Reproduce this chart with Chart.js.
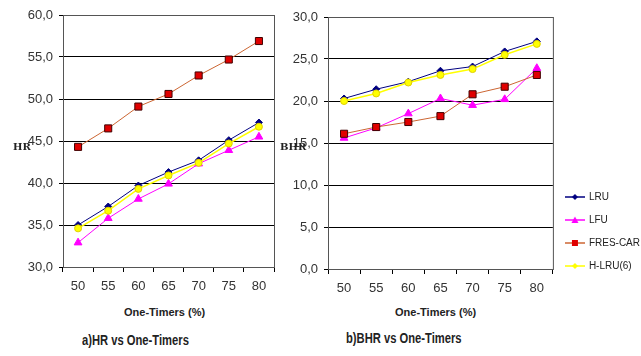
<!DOCTYPE html>
<html>
<head>
<meta charset="utf-8">
<script src="https://cdn.jsdelivr.net/npm/chart.js@4.4.0/dist/chart.umd.min.js"></script>
<style>
  body { margin: 0; background: #fff; width: 641px; height: 356px; overflow: hidden; position: relative; font-family: "Liberation Sans", Arial, sans-serif; }
  .box { position: absolute; }
  .txt { position: absolute; white-space: nowrap; color: #222; }
  .ylab { font-family: "DejaVu Serif", serif; font-weight: bold; font-size: 10px; }
  .xtitle { font-weight: bold; font-size: 11px; }
  .cap { font-weight: bold; font-size: 14px; transform: scaleX(0.8); transform-origin: left center; }
</style>
</head>
<body>
<div class="box" style="left:0;top:0;width:290px;height:300px"><canvas id="chartHR"></canvas></div>
<div class="box" style="left:290px;top:0;width:360px;height:300px"><canvas id="chartBHR"></canvas></div>

<div class="txt ylab" style="left:13px;top:141px">HR</div>
<div class="txt ylab" style="left:280px;top:141px">BHR</div>
<div class="txt xtitle" style="left:124px;top:306px">One-Timers (%)</div>
<div class="txt xtitle" style="left:395px;top:306px">One-Timers (%)</div>
<div class="txt cap" style="left:82px;top:332px">a)HR vs One-Timers</div>
<div class="txt cap" style="left:346px;top:330px">b)BHR vs One-Timers</div>

<script>
// persentase one-timers
const kategori = ['50', '55', '60', '65', '70', '75', '80'];
const namaSeri = ['LRU', 'LFU', 'FRES-CAR', 'H-LRU(6)'];

// hit ratio (HR)
const hrLRU     = [35.0, 37.2, 39.7, 41.3, 42.7, 45.1, 47.2];
const hrLFU     = [32.9, 35.8, 38.1, 39.9, 42.3, 43.9, 45.5];
const hrFRESCAR = [44.3, 46.5, 49.1, 50.6, 52.8, 54.7, 56.9];
const hrHLRU    = [34.6, 36.7, 39.3, 40.9, 42.4, 44.7, 46.7];

// byte hit ratio (BHR)
const bhrLRU     = [20.3, 21.4, 22.3, 23.6, 24.1, 25.9, 27.1];
const bhrLFU     = [15.6, 16.8, 18.5, 20.3, 19.5, 20.2, 23.9];
const bhrFRESCAR = [16.1, 16.9, 17.5, 18.2, 20.8, 21.7, 23.1];
const bhrHLRU    = [20.0, 20.9, 22.2, 23.1, 23.8, 25.5, 26.8];

const gaya = [
  { line: '#000080', fill: '#000080', border: '#000080', shape: 'rectRot', r: 3.5, order: 4 },
  { line: '#ff00ff', fill: '#ff00ff', border: '#ff00ff', shape: 'triangle', r: 4.5, order: 3 },
  { line: '#cc6633', fill: '#e00000', border: '#400000', shape: 'rect', r: 5, order: 2 },
  { line: '#ffff00', fill: '#ffff00', border: '#e0d000', shape: 'circle', r: 3.5, order: 1 }
];

function buatDataset(nilai) {
  return nilai.map((d, i) => ({
    label: namaSeri[i],
    data: d,
    borderColor: gaya[i].line,
    borderWidth: i === 3 ? 1.5 : 1,
    backgroundColor: gaya[i].fill,
    pointBackgroundColor: gaya[i].fill,
    pointBorderColor: gaya[i].border,
    pointBorderWidth: 1,
    pointStyle: gaya[i].shape,
    pointRadius: gaya[i].r,
    tension: 0,
    fill: false,
    order: gaya[i].order
  }));
}

// kotak plot (garis tepi atas & kanan)
const bingkai = {
  id: 'bingkai',
  afterDraw(chart) {
    const a = chart.chartArea, ctx = chart.ctx;
    ctx.save();
    ctx.strokeStyle = '#555';
    ctx.lineWidth = 1;
    ctx.strokeRect(a.left + 0.5, a.top + 0.5, a.right - a.left, a.bottom - a.top);
    ctx.restore();
  }
};

function ikonLegend(i) {
  const c = document.createElement('canvas');
  c.width = 20; c.height = 10;
  const x = c.getContext('2d');
  x.strokeStyle = gaya[i].line;
  x.lineWidth = 1.5;
  x.beginPath(); x.moveTo(0, 5); x.lineTo(20, 5); x.stroke();
  x.fillStyle = gaya[i].fill;
  if (gaya[i].shape === 'triangle') {
    x.beginPath(); x.moveTo(10, 1.5); x.lineTo(13.5, 8); x.lineTo(6.5, 8); x.closePath(); x.fill();
  } else if (gaya[i].shape === 'rect') {
    x.fillRect(7, 2, 6, 6);
  } else {
    x.beginPath(); x.moveTo(10, 2); x.lineTo(13, 5); x.lineTo(10, 8); x.lineTo(7, 5); x.closePath(); x.fill();
  }
  return c;
}

function opsi(minY, maxY, lebarY, tinggiX, padKanan, padAtas, legend) {
  return {
    responsive: true,
    maintainAspectRatio: false,
    animation: false,
    layout: { padding: { left: 0, right: padKanan, top: padAtas, bottom: 0 } },
    plugins: {
      legend: legend ? {
        display: true,
        position: 'right',
        align: 'start',
        maxWidth: 200,
        title: { display: true, text: '', font: { size: 10 }, padding: { top: 0, bottom: 150 } },
        labels: {
          usePointStyle: true,
          pointStyleWidth: 18,
          padding: 13,
          color: '#222',
          font: { size: 10 },
          sort: (a, b) => a.datasetIndex - b.datasetIndex,
          generateLabels(chart) {
            const items = Chart.defaults.plugins.legend.labels.generateLabels(chart);
            items.forEach(it => { it.pointStyle = ikonLegend(it.datasetIndex); });
            return items;
          }
        }
      } : { display: false },
      tooltip: { enabled: false }
    },
    scales: {
      x: {
        type: 'category',
        offset: true,
        grid: { drawOnChartArea: false, drawTicks: true, tickLength: 5, offset: true, color: '#000' },
        border: { color: '#000' },
        ticks: { color: '#333', padding: 7, font: { size: 13 } },
        afterFit(s) { s.height = tinggiX; }
      },
      y: {
        min: minY,
        max: maxY,
        ticks: {
          stepSize: 5,
          color: '#333',
          padding: 6,
          font: { size: 13 },
          callback: v => v.toFixed(1).replace('.', ',')
        },
        grid: { color: '#000', tickLength: 4 },
        border: { color: '#000' },
        afterFit(s) { s.width = lebarY; }
      }
    }
  };
}

new Chart(document.getElementById('chartHR'), {
  type: 'line',
  data: { labels: kategori, datasets: buatDataset([hrLRU, hrLFU, hrFRESCAR, hrHLRU]) },
  options: opsi(30, 60, 63, 33, 16, 15, false),
  plugins: [bingkai]
});

new Chart(document.getElementById('chartBHR'), {
  type: 'line',
  data: { labels: kategori, datasets: buatDataset([bhrLRU, bhrLFU, bhrFRESCAR, bhrHLRU]) },
  options: opsi(0, 30, 38, 31, 0, 17, true),
  plugins: [bingkai]
});
</script>
</body>
</html>
